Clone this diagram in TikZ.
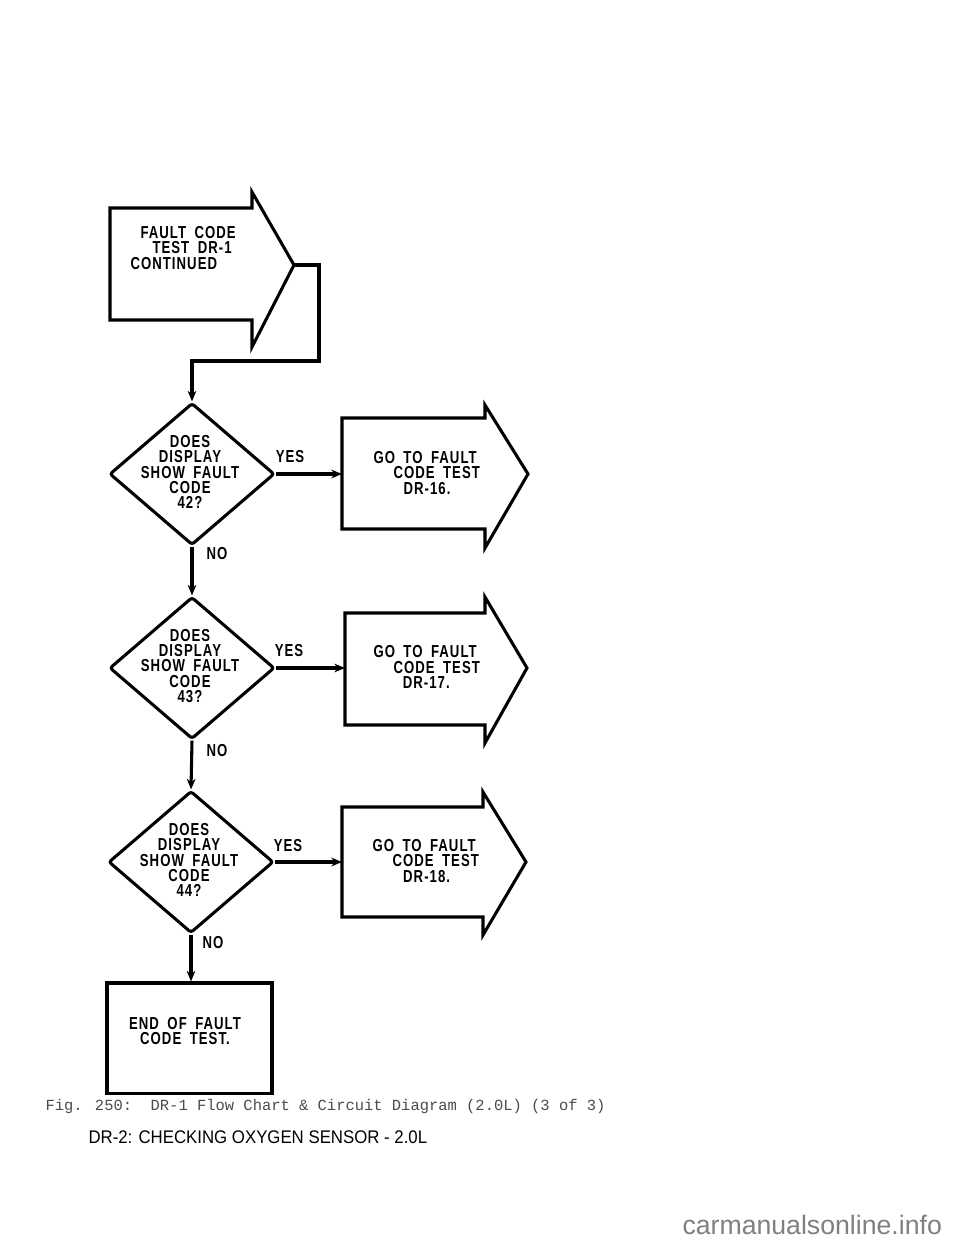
\documentclass[tikz,border=0pt]{standalone}
\usepackage{fontspec}
\setmainfont{Liberation Sans}
\newfontfamily\chartfont[FakeStretch=0.76, LetterSpace=6, WordSpace=1.8]{Liberation Sans Bold}
\newfontfamily\figfont{Liberation Mono}
\newfontfamily\headfont[FakeStretch=0.92]{Liberation Sans}
\usetikzlibrary{shapes.geometric,arrows.meta}

\tikzset{
	chart line/.style={line width=2.3pt, line join=miter},
	flow/.style={chart line, -{Stealth[length=8pt,width=6.5pt]}},
	decision/.style={diamond, draw, chart line, inner sep=0pt, minimum width=123.75pt, minimum height=106.5pt, rounded corners=2pt},
	endbox/.style={rectangle, draw, chart line, inner sep=0pt, minimum width=123.75pt, minimum height=83pt},
	chart text/.style={font=\chartfont\fontsize{13}{11.6}\selectfont, inner sep=0pt},
	yes no/.style={font=\chartfont\fontsize{13}{11.6}\selectfont, inner sep=0pt}
}
\tikzset{every picture/.style={line width=0.75pt}}

\begin{document}
\begin{tikzpicture}[x=0.75pt,y=0.75pt,yscale=-1,xscale=1]
	\useasboundingbox[fill=white] (0,0) rectangle (960,1242);

	%Shape: Right Arrow [id:continued]
	\draw [chart line] (110,208) -- (252,208) -- (252,192) -- (294,265) -- (252,347) -- (252,320) -- (110,320) -- cycle ;
	\coordinate (ctip) at (294,265);
	% Text Node
	\node [chart text, anchor=west, align=left] (cont) at (130,248) {\hspace*{7.5pt}FAULT CODE\\\hspace*{16.5pt}TEST DR-1\\CONTINUED};

	%Shape: Diamond [id:q42]
	\node [decision] (q42) at (192,474) {};
	\node [chart text, align=center] (q42t) at (190,472) {DOES\\DISPLAY\\SHOW FAULT\\CODE\\42?};
	%Shape: Diamond [id:q43]
	\node [decision] (q43) at (192,668) {};
	\node [chart text, align=center] (q43t) at (190,666) {DOES\\DISPLAY\\SHOW FAULT\\CODE\\43?};
	%Shape: Diamond [id:q44]
	\node [decision] (q44) at (191,862) {};
	\node [chart text, align=center] (q44t) at (189,860) {DOES\\DISPLAY\\SHOW FAULT\\CODE\\44?};

	%Shape: Right Arrow [id:go16]
	\draw [chart line] (342,418) -- (485,418) -- (485,405) -- (528,474) -- (485,548) -- (485,529) -- (342,529) -- cycle ;
	\coordinate (go16in) at (342,474);
	\node [chart text, anchor=west, align=left] (go16) at (373,473) {GO TO FAULT\\\hspace*{15pt}CODE TEST\\\hspace*{22.5pt}DR-16.};
	%Shape: Right Arrow [id:go17]
	\draw [chart line] (345,613) -- (485,613) -- (485,597) -- (527,668) -- (485,743) -- (485,725) -- (345,725) -- cycle ;
	\coordinate (go17in) at (345,668);
	\node [chart text, anchor=west, align=left] (go17) at (373,667) {GO TO FAULT\\\hspace*{15pt}CODE TEST\\\hspace*{22pt}DR-17.};
	%Shape: Right Arrow [id:go18]
	\draw [chart line] (342,807) -- (483,807) -- (483,792) -- (526,862) -- (483,935) -- (483,917) -- (342,917) -- cycle ;
	\coordinate (go18in) at (342,862);
	\node [chart text, anchor=west, align=left] (go18) at (372,861) {GO TO FAULT\\\hspace*{15pt}CODE TEST\\\hspace*{23pt}DR-18.};

	%Shape: Rectangle [id:end]
	\node [endbox] (end) at (189.5,1038.3) {};
	\node [chart text, align=center] (endt) at (185,1031) {END OF FAULT\\CODE TEST.};

	%Connectors
	\draw [flow] (ctip) -| (319,361) -| (q42.north) ;
	\draw [flow] (q42.east) -- (go16in) ;
	\draw [flow] (q43.east) -- (go17in) ;
	\draw [flow] (q44.east) -- (go18in) ;
	\draw [flow] (q42.south) -- (q43.north) ;
	\draw [flow] (q43.south) -- (q44.north) ;
	\draw [flow] (q44.south) -- (q44.south |- end.north) ;

	% Text Node
	\node [yes no] (yes42) at (290,457) {YES};
	\node [yes no] (no42) at (217,554) {NO};
	\node [yes no] (yes43) at (289,651) {YES};
	\node [yes no] (no43) at (217,751) {NO};
	\node [yes no] (yes44) at (288,846) {YES};
	\node [yes no] (no44) at (213,943) {NO};

	% Text Node
	\node [font=\figfont\fontsize{11.6}{13}\selectfont, text=black!70, anchor=west, inner sep=0pt] (fig) at (45,1106) {Fig. 250:\ \ DR-1 Flow Chart \& Circuit Diagram (2.0L) (3 of 3)};
	% Text Node
	\node [font=\headfont\fontsize{13.7}{15}\selectfont, anchor=west, inner sep=0pt] (head) at (88,1137) {DR-2: CHECKING OXYGEN SENSOR - 2.0L};
	% Text Node
	\node [font=\fontsize{20}{22}\selectfont, text=black!50, anchor=base west, inner sep=0pt] (mark) at (682,1234) {carmanualsonline.info};

\end{tikzpicture}
\end{document}
